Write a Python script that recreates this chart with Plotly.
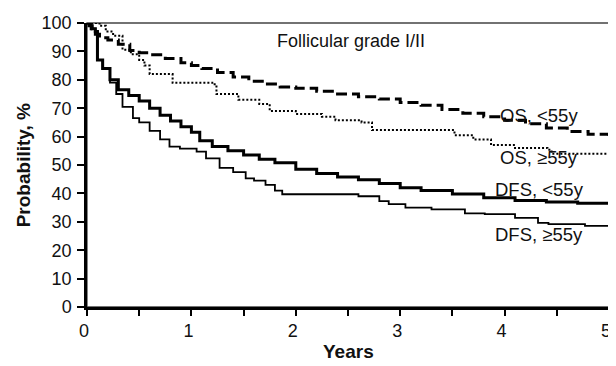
import plotly.graph_objects as go

# ---- data ----
os_lt55_t = [0, 0.04, 0.08, 0.12, 0.2, 0.3, 0.41, 0.5, 0.6, 0.75, 0.9, 1.0, 1.1, 1.25, 1.4, 1.55, 1.7, 1.85,
             2.0, 2.2, 2.4, 2.6, 2.8, 3.0, 3.2, 3.4, 3.6, 3.8, 4.0, 4.2, 4.4, 4.6, 4.8, 5.0]
os_lt55_p = [100, 98, 96, 94.8, 94, 92.5, 90.3, 89.5, 88.8, 87.5, 86, 85, 84, 82.6, 81, 79.5, 78.5, 77.5,
             77, 76, 75, 74, 73.2, 72, 71, 69.5, 68.2, 67, 65.8, 64.5, 63, 61.8, 60.8, 60]

os_ge55_t = [0, 0.05, 0.12, 0.18, 0.25, 0.34, 0.42, 0.5, 0.55, 0.6, 0.79, 0.82, 1.2, 1.24, 1.45, 1.65, 1.75,
             2.0, 2.25, 2.38, 2.63, 2.73, 3.46, 3.52, 3.7, 3.87, 4.1, 4.41, 4.45, 5.0]
os_ge55_p = [100, 100, 99, 97, 95.5, 90.6, 89, 87, 85, 82, 82, 79, 78.4, 75, 73, 71.5, 69,
             68, 67, 65.8, 65, 62.3, 62.3, 60.5, 59, 57, 56, 55.4, 54, 53.6]

dfs_lt55_t = [0, 0.02, 0.05, 0.08, 0.1, 0.15, 0.22, 0.3, 0.4, 0.5, 0.6, 0.7, 0.8, 0.9, 1.0, 1.08, 1.2, 1.35,
              1.5, 1.65, 1.8, 2.0, 2.2, 2.4, 2.6, 2.8, 3.0, 3.2, 3.5, 3.8, 4.1, 4.4, 4.7, 5.0]
dfs_lt55_p = [100, 99, 98, 97, 87, 84, 80, 76.5, 74.5, 72.5, 70, 67.5, 65.5, 63.5, 61.5, 58.5, 56.5, 55,
              53.5, 52, 50.8, 48.5, 47, 45.8, 44.8, 43.5, 42, 41, 39.8, 38.5, 37.5, 37, 36.5, 36]

dfs_ge55_t = [0, 0.02, 0.05, 0.08, 0.1, 0.15, 0.22, 0.28, 0.34, 0.44, 0.5, 0.6, 0.7, 0.79, 0.89, 1.05, 1.14,
              1.27, 1.4, 1.52, 1.6, 1.71, 1.8, 1.87, 2.6, 2.8, 2.89, 3.05, 3.3, 3.62, 3.81, 4.1, 4.32, 4.42,
              4.77, 5.0]
dfs_ge55_p = [100, 99, 98, 97, 87, 84, 79, 75, 70.5, 66.5, 65, 62, 59, 56.5, 55.8, 54.7, 52.3,
              49, 47.5, 45.3, 44.5, 43, 41, 39.7, 39, 37.3, 36.2, 35, 34.4, 33, 32.7, 31.4, 29.6, 29.2,
              28.6, 28.6]

x_ticks = [0, 1, 2, 3, 4, 5]
y_ticks = [0, 10, 20, 30, 40, 50, 60, 70, 80, 90, 100]

FONT = "Liberation Sans, Arial, sans-serif"

fig = go.Figure()
fig.add_trace(go.Scatter(x=os_lt55_t, y=os_lt55_p, mode="lines", line_shape="hv",
                         line=dict(color="black", width=3, dash="11px,5px"), name="OS, <55y"))
fig.add_trace(go.Scatter(x=os_ge55_t, y=os_ge55_p, mode="lines", line_shape="hv",
                         line=dict(color="black", width=2, dash="2px,2px"), name="OS, ≥55y"))
fig.add_trace(go.Scatter(x=dfs_lt55_t, y=dfs_lt55_p, mode="lines", line_shape="hv",
                         line=dict(color="black", width=3), name="DFS, <55y"))
fig.add_trace(go.Scatter(x=dfs_ge55_t, y=dfs_ge55_p, mode="lines", line_shape="hv",
                         line=dict(color="black", width=1.8), name="DFS, ≥55y"))

labels = [("OS, <55y", 4.33, 67.3), ("OS, ≥55y", 4.33, 52.8),
          ("DFS, <55y", 4.33, 41.3), ("DFS, ≥55y", 4.33, 25.4)]
for txt, xx, yy in labels:
    fig.add_annotation(x=xx, y=yy, text=txt, showarrow=False, xanchor="center", yanchor="middle",
                       font=dict(family=FONT, size=18.5, color="#111"))

fig.add_annotation(x=2.53, y=93.5, text="Follicular grade I/II", showarrow=False,
                   xanchor="center", yanchor="middle", font=dict(family=FONT, size=18, color="#111"))

# axis titles
fig.add_annotation(xref="paper", yref="paper", x=0.5, y=-0.157, text="<b>Years</b>", showarrow=False,
                   xanchor="center", yanchor="middle", font=dict(family=FONT, size=19, color="#111"))
fig.add_annotation(xref="paper", yref="paper", x=-0.122, y=0.5, text="<b>Probability, %</b>",
                   showarrow=False, textangle=-90, xanchor="center", yanchor="middle",
                   font=dict(family=FONT, size=19, color="#111"))

# top/right border
fig.add_shape(type="rect", xref="paper", yref="paper", x0=0, y0=0, x1=1, y1=1,
              line=dict(color="#444", width=1.3), layer="below")

# the page body has an 8px default margin; size the figure so the plot lands where the reference has it
fig.update_layout(
    width=608, height=358,
    margin=dict(l=79, r=5, t=12, b=59),
    plot_bgcolor="white", paper_bgcolor="white",
    showlegend=False,
    font=dict(family=FONT, color="#111"),
    xaxis=dict(range=[0, 5], tickvals=x_ticks, ticktext=[str(v) for v in x_ticks],
               ticks="outside", ticklen=6, tickwidth=1.5, tickcolor="black",
               ticklabeloverflow="allow", ticklabelshift=-3,
               showline=True, linecolor="black", linewidth=2.5, showgrid=False, zeroline=False,
               tickfont=dict(size=18, family=FONT, color="#111"),
               minor=dict(dtick=0.5, tick0=0, ticks="outside", ticklen=6, tickwidth=1.5,
                          tickcolor="black", showgrid=False)),
    yaxis=dict(range=[0, 100], tickvals=y_ticks, ticktext=[str(v) for v in y_ticks],
               ticks="outside", ticklen=7, tickwidth=1.5, tickcolor="black", ticklabelstandoff=2,
               showline=True, linecolor="black", linewidth=2.5, showgrid=False, zeroline=False,
               tickfont=dict(size=18, family=FONT, color="#111")),
)

fig.write_html("out.html")
